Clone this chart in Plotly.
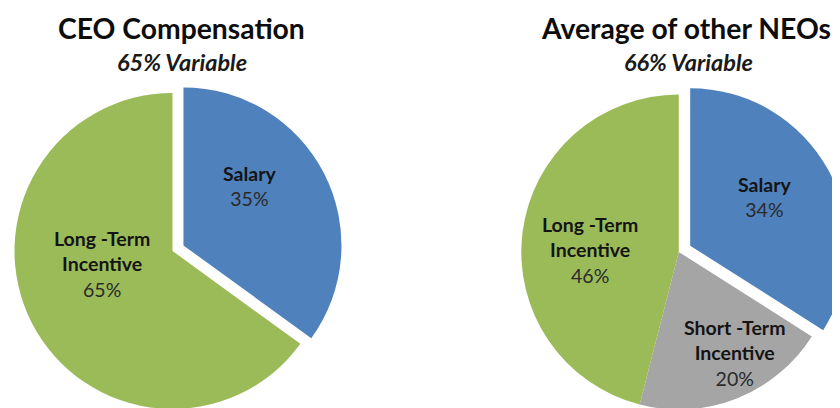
import math
import plotly.graph_objects as go

# Data
ceo_labels = ["Salary", "Long -Term<br>Incentive"]
ceo_values = [35, 65]
ceo_colors = ["#4F81BD", "#9BBB59"]

neo_labels = ["Salary", "Short -Term<br>Incentive", "Long -Term<br>Incentive"]
neo_values = [34, 20, 46]
neo_colors = ["#4F81BD", "#A5A5A5", "#9BBB59"]

titles = ["CEO Compensation", "Average of other NEOs"]
subtitles = ["65% Variable", "66% Variable"]

# Layout / style (figure pixels)
W, H = 840, 408
FONT = "Lato"
CLEAR = "rgba(0,0,0,0)"
ceo_geom = dict(cx=164.5, cy=243, r=158, pull_px=12.3)
neo_geom = dict(cx=670.8, cy=244, r=157.5, pull_px=13)
ceo_label_pos = [(242, 178), (94, 256)]
neo_label_pos = [(756, 189), (726, 345), (582, 242)]

fig = go.Figure()


def domain_for(cx, cy, r):
    return dict(x=[max(0, (cx - r) / W), min(1, (cx + r) / W)],
                y=[max(0, 1 - (cy + r) / H), min(1, 1 - (cy - r) / H)])


def add_exploded_pie(labels, values, colors, geom, pulled=0):
    total = sum(values)
    start = sum(values[:pulled])
    mid = 2 * math.pi * (start + values[pulled] / 2) / total  # clockwise from 12 o'clock
    dx = geom["pull_px"] * math.sin(mid)
    dy = -geom["pull_px"] * math.cos(mid)
    base_colors = [CLEAR if i == pulled else c for i, c in enumerate(colors)]
    pulled_colors = [c if i == pulled else CLEAR for i, c in enumerate(colors)]
    common = dict(labels=labels, values=values, sort=False, direction="clockwise", rotation=0,
                  textinfo="none", showlegend=False, hoverinfo="label+percent")
    fig.add_trace(go.Pie(marker=dict(colors=base_colors, line=dict(width=0)),
                         domain=domain_for(geom["cx"], geom["cy"], geom["r"]), **common))
    fig.add_trace(go.Pie(marker=dict(colors=pulled_colors, line=dict(width=0)),
                         domain=domain_for(geom["cx"] + dx, geom["cy"] + dy, geom["r"]), **common))


add_exploded_pie(ceo_labels, ceo_values, ceo_colors, ceo_geom)
add_exploded_pie(neo_labels, neo_values, neo_colors, neo_geom)


def add_labels(labels, values, positions):
    total = sum(values)
    for lab, v, (x, y) in zip(labels, values, positions):
        pct = round(100 * v / total)
        fig.add_annotation(
            text=f"<b>{lab}</b><br><span style='color:#2a2a2a'>{pct}%</span>",
            x=x / W, y=1 - y / H, xref="paper", yref="paper", showarrow=False,
            xanchor="center", yanchor="middle", align="center",
            font=dict(family=FONT, size=19.5, color="#141414"))


add_labels(ceo_labels, ceo_values, ceo_label_pos)
add_labels(neo_labels, neo_values, neo_label_pos)

title_x = [173, 678]
sub_x = [174, 680]
for i in range(2):
    fig.add_annotation(text="<b>" + titles[i] + "</b>", x=title_x[i] / W, y=1 - 20 / H,
                       xref="paper", yref="paper", showarrow=False,
                       xanchor="center", yanchor="middle",
                       font=dict(family=FONT, size=28.3, color="#0d0d0d"))
    fig.add_annotation(text="<b><i>" + subtitles[i] + "</i></b>", x=sub_x[i] / W, y=1 - 54 / H,
                       xref="paper", yref="paper", showarrow=False, xanchor="center", yanchor="middle",
                       font=dict(family=FONT, size=23.5, color="#1a1a1a"))

fig.update_layout(width=W, height=H, margin=dict(l=0, r=0, t=0, b=0),
                  paper_bgcolor="white", plot_bgcolor="white")
fig.write_html("out.html")
